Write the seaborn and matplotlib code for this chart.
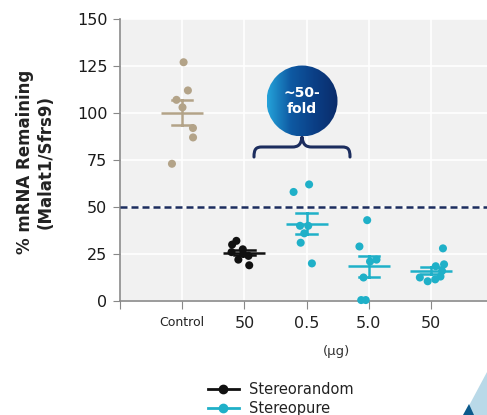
import numpy as np
import pandas as pd
import matplotlib.pyplot as plt
import seaborn as sns
from matplotlib.lines import Line2D
from matplotlib.patches import Circle, PathPatch, Polygon
from matplotlib.path import Path
from matplotlib.colors import LinearSegmentedColormap

# data
groups = ['Control', 'SR 50', 'SP 0.5', 'SP 5.0', 'SP 50']
tick_labels = ['Control', '50', '0.5', '5.0', '50']
control = [127, 112, 107, 103, 92, 87, 73]
sr_50 = [32, 30, 27.5, 26, 25, 24, 22, 19]
sp_05 = [62, 58, 40, 40, 36, 31, 20]
sp_5 = [43, 29, 21, 22, 12.5, 0.5, 0.5]
sp_50 = [28, 19.5, 18.5, 16, 13, 10.5, 12.5, 11.5]
legend_labels = ['Stereorandom', 'Stereopure']

tan = '#b3a388'
blk = '#111111'
cyan = '#1fb0c8'
navy = '#1c2d5e'
pal = {'Control': tan, 'SR 50': blk, 'SP 0.5': cyan, 'SP 5.0': cyan, 'SP 50': cyan}

df = pd.concat([
    pd.DataFrame({'group': g, 'value': v})
    for g, v in zip(groups, [control, sr_50, sp_05, sp_5, sp_50])
], ignore_index=True)

W, H = 487, 415
plt.rcParams['font.family'] = ['DejaVu Sans']
fig = plt.figure(figsize=(W / 100, H / 100), dpi=100)
ax = fig.add_axes([120 / W, 1 - 301 / H, (W - 120) / W, (301 - 19) / H])
ax.set_facecolor('#f1f1f1')

np.random.seed(3)
sns.stripplot(data=df, x='group', y='value', hue='group', palette=pal,
              order=groups, size=5.8, jitter=0.22, legend=False, ax=ax, zorder=3)
for c in ax.collections:
    c.set_clip_on(False)

sns.pointplot(data=df, x='group', y='value', hue='group', palette=pal,
              order=groups, errorbar='se', capsize=0.33, markers='_',
              linestyle='none', markersize=30, markeredgewidth=1.8,
              err_kws={'linewidth': 1.8}, legend=False, ax=ax)
for l in ax.lines:
    l.set_zorder(4)

ax.axhline(50, color=navy, lw=1.8, ls=(0, (2.8, 1.6)), zorder=5)

ax.set_xlim(-1, 4.9)
ax.set_ylim(0, 150)
ax.set_xticks([-1, 0, 1, 2, 3, 4])
ax.set_xticklabels([''] + tick_labels)
for i, t in enumerate(ax.get_xticklabels()):
    t.set_fontsize(9 if i == 1 else 11.5)
ax.set_yticks(np.arange(0, 151, 25))
ax.tick_params(axis='y', labelsize=11.5, length=5, color='#888888', labelcolor='#1a1a1a', pad=4)
ax.tick_params(axis='x', length=6, color='#888888', labelcolor='#222222', pad=5)
ax.grid(True, color='white', lw=1.2)
ax.set_axisbelow(True)
for s in ['top', 'right']:
    ax.spines[s].set_visible(False)
for s in ['left', 'bottom']:
    ax.spines[s].set_color('#8a8a8a')
    ax.spines[s].set_linewidth(1.2)
ax.set_xlabel('')
ax.set_ylabel('')

fig.text(25 / W, 1 - 162 / H, '% mRNA Remaining', rotation=90, ha='center', va='center',
         fontsize=12, fontweight='bold', color='#222222')
fig.text(46 / W, 1 - 162 / H, '(Malat1/Sfrs9)', rotation=90, ha='center', va='center',
         fontsize=12, fontweight='bold', color='#222222')
fig.text(337 / W, 1 - 351 / H, '(μg)', ha='center', va='center', fontsize=9.5, color='#333333')

# legend
handles = [Line2D([], [], color=blk, marker='o', markersize=6, lw=2),
           Line2D([], [], color=cyan, marker='o', markersize=6, lw=2)]
fig.legend(handles, legend_labels, loc='upper left', bbox_to_anchor=(208 / W, 1 - 382 / H),
           frameon=False, fontsize=10.5, handlelength=2.1, handletextpad=0.7,
           labelspacing=0.25, borderpad=0, borderaxespad=0, labelcolor='#222222')

# annotation bubble + brace, drawn in pixel space
x0, x1, y0, y1 = 240, 360, 60, 165
ov = fig.add_axes([x0 / W, 1 - y1 / H, (x1 - x0) / W, (y1 - y0) / H])
ov.set_xlim(x0, x1)
ov.set_ylim(y1, y0)
ov.axis('off')
cx, cy, r = 302, 101, 35.5
cmap = LinearSegmentedColormap.from_list('bub', ['#25a3da', '#0e5aa3', '#0b3f86', '#0a2c6a'])
grad = np.linspace(0, 1, 256)[None, :]
im = ov.imshow(grad, cmap=cmap, extent=(cx - r, cx + r, cy + r, cy - r), aspect='auto', zorder=2)
circ = Circle((cx, cy), r, transform=ov.transData, facecolor='none', edgecolor='none')
ov.add_patch(circ)
im.set_clip_path(circ)
ov.text(cx, cy, '~50-\nfold', ha='center', va='center', color='white',
        fontsize=10, fontweight='bold', linespacing=1.15, zorder=3)
verts = [(254, 157), (254, 149), (256, 147), (262, 147), (292, 147),
         (298, 147), (301, 145), (302, 137),
         (303, 145), (306, 147), (312, 147), (342, 147),
         (348, 147), (350, 149), (350, 157)]
codes = [Path.MOVETO, Path.CURVE4, Path.CURVE4, Path.CURVE4, Path.LINETO,
         Path.CURVE4, Path.CURVE4, Path.CURVE4,
         Path.CURVE4, Path.CURVE4, Path.CURVE4, Path.LINETO,
         Path.CURVE4, Path.CURVE4, Path.CURVE4]
ov.add_patch(PathPatch(Path(verts, codes), facecolor='none', edgecolor=navy,
                       lw=2.2, capstyle='round', joinstyle='round'))

# slide decoration bottom right
def px(pts):
    return [(x / W, 1 - y / H) for x, y in pts]
fig.patches.append(Polygon(px([(487, 372), (487, 415), (464, 415)]), closed=True,
                           transform=fig.transFigure, facecolor='#b9d9e8', edgecolor='none'))
fig.patches.append(Polygon(px([(463, 415), (469, 404), (474, 415)]), closed=True,
                           transform=fig.transFigure, facecolor='#0c5a8c', edgecolor='none'))

fig.savefig('out.png', dpi=100)
